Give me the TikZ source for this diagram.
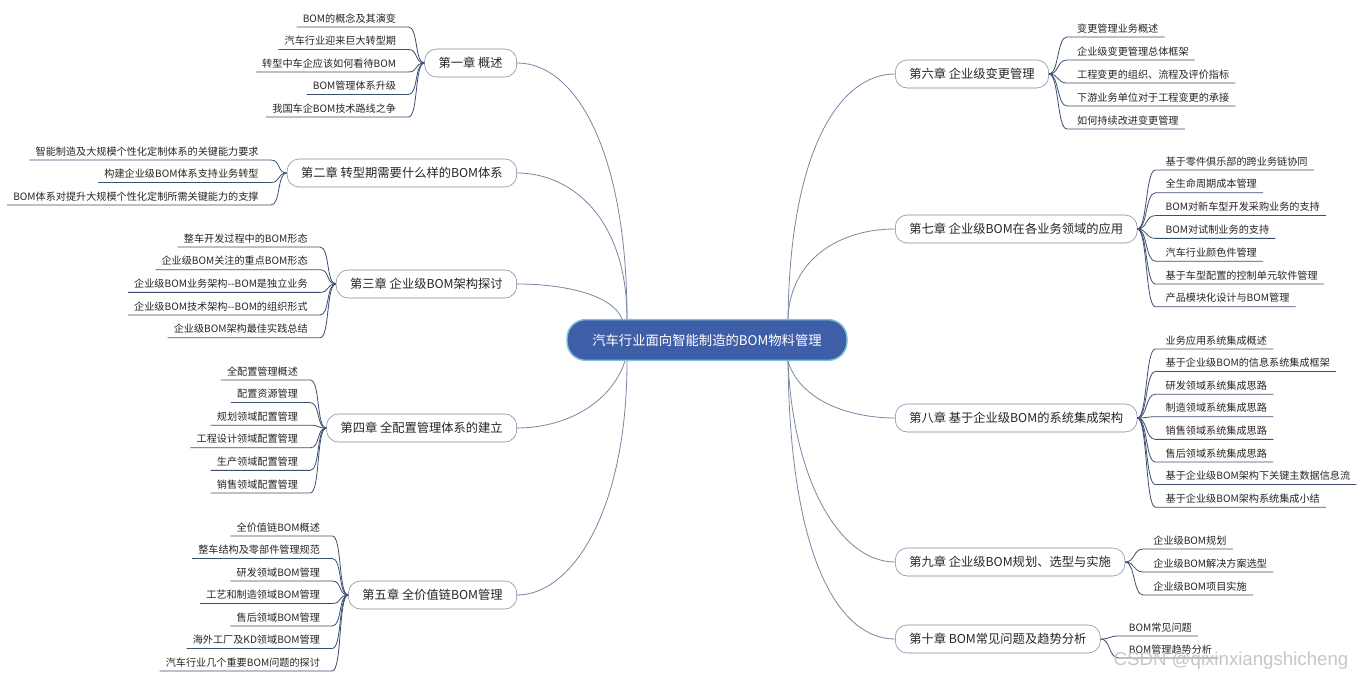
\documentclass[tikz,border=0pt]{standalone}
\usepackage{fontspec}
\setmainfont{Noto Sans CJK SC}
\newfontfamily\markfont{Liberation Sans}
\usetikzlibrary{positioning, calc}

\definecolor{rootfill}{RGB}{62,94,168}
\definecolor{rootedge}{RGB}{125,195,215}
\definecolor{branchc}{RGB}{122,134,162}
\definecolor{linec}{RGB}{62,78,112}
\newcommand{\dd}{-\kern0pt-}

\begin{document}
\begin{tikzpicture}[
    x=0.75pt, y=-0.75pt,
    font=\fontsize{7.6pt}{9pt}\selectfont,
    text=black!85,
    root/.style={draw=rootedge, line width=1.1pt, fill=rootfill, text=white, rounded corners=14pt, minimum width=210pt, minimum height=30.5pt, font=\fontsize{10pt}{12pt}\selectfont},
    chapter/.style={draw=branchc, fill=white, rounded corners=9pt, minimum height=21pt, inner xsep=10.5pt, font=\fontsize{9.2pt}{11pt}\selectfont},
    leafl/.style={anchor=south east, inner xsep=4.5pt, inner ysep=1.5pt, text height=7pt, text depth=2pt},
    leafr/.style={leafl, anchor=south west},
    trunk/.style={draw=branchc, line width=0.6pt},
    twig/.style={draw=linec, line width=0.6pt}
  ]
  \fill[white] (0,0) rectangle (1364,680);
  \useasboundingbox (0,0) rectangle (1364,680);

  \node[root] (root) at (707,340) {汽车行业面向智能制造的BOM物料管理};
  \coordinate (rootTL) at ($(root.north)+(-80,0)$);
  \coordinate (rootTR) at ($(root.north)+(81,0)$);
  \coordinate (rootBL) at ($(root.south)+(-80,0)$);
  \coordinate (rootBR) at ($(root.south)+(81,0)$);

  % chapters, left
  \node[chapter, anchor=east] (c1) at (517,63) {第一章 概述};
  \node[chapter, anchor=east] (c2) at (517,173) {第二章 转型期需要什么样的BOM体系};
  \node[chapter, anchor=east] (c3) at (517,284) {第三章 企业级BOM架构探讨};
  \node[chapter, anchor=east] (c4) at (517,428) {第四章 全配置管理体系的建立};
  \node[chapter, anchor=east] (c5) at (517,595) {第五章 全价值链BOM管理};
  % chapters, right
  \node[chapter, anchor=west] (c6) at (895,74) {第六章 企业级变更管理};
  \node[chapter, anchor=west] (c7) at (895,229) {第七章 企业级BOM在各业务领域的应用};
  \node[chapter, anchor=west] (c8) at (895,418) {第八章 基于企业级BOM的系统集成架构};
  \node[chapter, anchor=west] (c9) at (895,562) {第九章 企业级BOM规划、选型与实施};
  \node[chapter, anchor=west] (c10) at (895,639) {第十章 BOM常见问题及趋势分析};

  \draw[trunk] (rootTL) .. controls +(0,-165) and +(60,0) .. (c1.east);
  \draw[trunk] (rootTL) .. controls +(0,-100) and +(55,0) .. (c2.east);
  \draw[trunk] ($(rootTL)+(-5,0)$) .. controls +(-10,-25) and +(45,0) .. (c3.east);
  \draw[trunk] ($(rootBL)+(-2,0)$) .. controls +(-15,45) and +(45,0) .. (c4.east);
  \draw[trunk] (rootBL) .. controls +(0,150) and +(55,0) .. (c5.east);
  \draw[trunk] (rootTR) .. controls +(2,-170) and +(-55,0) .. (c6.west);
  \draw[trunk] (rootTR) .. controls +(2,-60) and +(-55,0) .. (c7.west);
  \draw[trunk] (rootBR) .. controls +(12,40) and +(-45,0) .. (c8.west);
  \draw[trunk] (rootBR) .. controls +(5,120) and +(-55,0) .. (c9.west);
  \draw[trunk] (rootBR) .. controls +(2,200) and +(-55,0) .. (c10.west);

  % leaves
  \foreach \t [count=\i] in {BOM的概念及其演变, 汽车行业迎来巨大转型期, 转型中车企应该如何看待BOM, BOM管理体系升级, 我国车企BOM技术路线之争}{
    \pgfmathsetmacro\yy{27+(\i-1)*22.5}
    \node[leafl] (c1l\i) at ($(c1.west |- 0,\yy)+(-22,0)$) {\t};
    \draw[twig] (c1.west) .. controls +(-10,0) and +(10,0) .. ([xshift=4.5pt]c1l\i.south east) -- (c1l\i.south west);
  }
  \foreach \t [count=\i] in {智能制造及大规模个性化定制体系的关键能力要求, 构建企业级BOM体系支持业务转型, BOM体系对提升大规模个性化定制所需关键能力的支撑}{
    \pgfmathsetmacro\yy{160+(\i-1)*22.5}
    \node[leafl] (c2l\i) at ($(c2.west |- 0,\yy)+(-22,0)$) {\t};
    \draw[twig] (c2.west) .. controls +(-10,0) and +(10,0) .. ([xshift=4.5pt]c2l\i.south east) -- (c2l\i.south west);
  }
  \foreach \t [count=\i] in {整车开发过程中的BOM形态, 企业级BOM关注的重点BOM形态, 企业级BOM业务架构\dd BOM是独立业务, 企业级BOM技术架构\dd BOM的组织形式, 企业级BOM架构最佳实践总结}{
    \pgfmathsetmacro\yy{247+(\i-1)*22.7}
    \node[leafl] (c3l\i) at ($(c3.west |- 0,\yy)+(-22,0)$) {\t};
    \draw[twig] (c3.west) .. controls +(-10,0) and +(10,0) .. ([xshift=4.5pt]c3l\i.south east) -- (c3l\i.south west);
  }
  \foreach \t [count=\i] in {全配置管理概述, 配置资源管理, 规划领域配置管理, 工程设计领域配置管理, 生产领域配置管理, 销售领域配置管理}{
    \pgfmathsetmacro\yy{380+(\i-1)*22.6}
    \node[leafl] (c4l\i) at ($(c4.west |- 0,\yy)+(-22,0)$) {\t};
    \draw[twig] (c4.west) .. controls +(-10,0) and +(10,0) .. ([xshift=4.5pt]c4l\i.south east) -- (c4l\i.south west);
  }
  \foreach \t [count=\i] in {全价值链BOM概述, 整车结构及零部件管理规范, 研发领域BOM管理, 工艺和制造领域BOM管理, 售后领域BOM管理, 海外工厂及KD领域BOM管理, 汽车行业几个重要BOM问题的探讨}{
    \pgfmathsetmacro\yy{536+(\i-1)*22.5}
    \node[leafl] (c5l\i) at ($(c5.west |- 0,\yy)+(-22,0)$) {\t};
    \draw[twig] (c5.west) .. controls +(-10,0) and +(10,0) .. ([xshift=4.5pt]c5l\i.south east) -- (c5l\i.south west);
  }
  \foreach \t [count=\i] in {变更管理业务概述, 企业级变更管理总体框架, 工程变更的组织、流程及评价指标, 下游业务单位对于工程变更的承接, 如何持续改进变更管理}{
    \pgfmathsetmacro\yy{37+(\i-1)*23}
    \node[leafr] (c6l\i) at ($(c6.east |- 0,\yy)+(22,0)$) {\t};
    \draw[twig] (c6.east) .. controls +(10,0) and +(-10,0) .. ([xshift=-3pt]c6l\i.south west) -- (c6l\i.south east);
  }
  \foreach \t [count=\i] in {基于零件俱乐部的跨业务链协同, 全生命周期成本管理, BOM对新车型开发采购业务的支持, BOM对试制业务的支持, 汽车行业颜色件管理, 基于车型配置的控制单元软件管理, 产品模块化设计与BOM管理}{
    \pgfmathsetmacro\yy{170+(\i-1)*22.8}
    \node[leafr] (c7l\i) at ($(c7.east |- 0,\yy)+(22,0)$) {\t};
    \draw[twig] (c7.east) .. controls +(10,0) and +(-10,0) .. ([xshift=-3pt]c7l\i.south west) -- (c7l\i.south east);
  }
  \foreach \t [count=\i] in {业务应用系统集成概述, 基于企业级BOM的信息系统集成框架, 研发领域系统集成思路, 制造领域系统集成思路, 销售领域系统集成思路, 售后领域系统集成思路, 基于企业级BOM架构下关键主数据信息流, 基于企业级BOM架构系统集成小结}{
    \pgfmathsetmacro\yy{349+(\i-1)*22.6}
    \node[leafr] (c8l\i) at ($(c8.east |- 0,\yy)+(22,0)$) {\t};
    \draw[twig] (c8.east) .. controls +(10,0) and +(-10,0) .. ([xshift=-3pt]c8l\i.south west) -- (c8l\i.south east);
  }
  \foreach \t [count=\i] in {企业级BOM规划, 企业级BOM解决方案选型, 企业级BOM项目实施}{
    \pgfmathsetmacro\yy{549+(\i-1)*23}
    \node[leafr] (c9l\i) at ($(c9.east |- 0,\yy)+(22,0)$) {\t};
    \draw[twig] (c9.east) .. controls +(10,0) and +(-10,0) .. ([xshift=-3pt]c9l\i.south west) -- (c9l\i.south east);
  }
  \foreach \t [count=\i] in {BOM常见问题, BOM管理趋势分析}{
    \pgfmathsetmacro\yy{636+(\i-1)*22}
    \node[leafr] (c10l\i) at ($(c10.east |- 0,\yy)+(22,0)$) {\t};
    \draw[twig] (c10.east) .. controls +(10,0) and +(-10,0) .. ([xshift=-3pt]c10l\i.south west) -- (c10l\i.south east);
  }

  \node[text=gray!45, font=\markfont\fontsize{14pt}{16pt}\selectfont] (mark) at (1231,661) {CSDN @qixinxiangshicheng};
\end{tikzpicture}
\end{document}
